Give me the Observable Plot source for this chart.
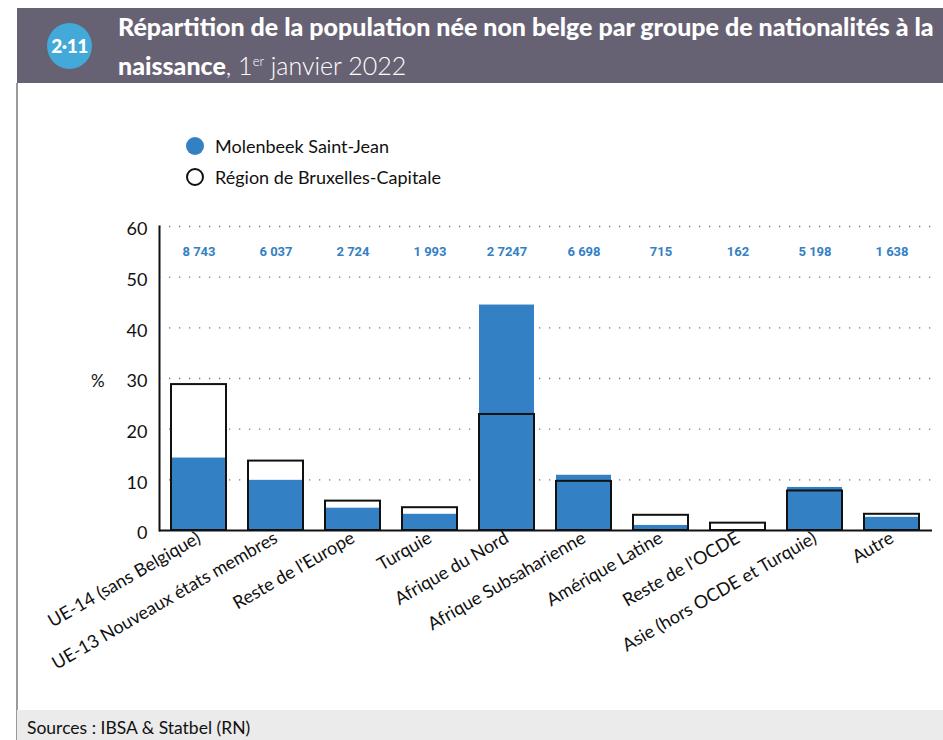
<!DOCTYPE html>
<html><head><meta charset="utf-8">
<script src="https://cdn.jsdelivr.net/npm/d3@7"></script>
<script src="https://cdn.jsdelivr.net/npm/@observablehq/plot@0.6"></script>
<style>
body{margin:0;width:943px;height:740px;position:relative;background:#fff;font-family:Lato,"Open Sans",sans-serif;overflow:hidden}
#band{position:absolute;left:17px;top:8px;width:926px;height:75px;background:#676273}
#vline{position:absolute;left:16px;top:83px;width:1.5px;height:657px;background:#9a9a9a}
#badge{position:absolute;left:47px;top:23px;width:45px;height:46px;border-radius:50%;background:#42a9d8;color:#fff;font-weight:900;font-size:19px;line-height:46px;text-align:center;letter-spacing:-0.5px}
#title{position:absolute;left:118px;top:9px;color:#fff;font-size:25px;line-height:35px;white-space:nowrap}
#title b{font-weight:900}
#title .reg{font-weight:300}
#footer{position:absolute;left:17px;top:710px;width:926px;height:30px;background:#ebebeb}
#src{position:absolute;left:27px;top:717px;font-size:17.5px;color:#111}
#legend{position:absolute;left:186px;top:130px;font-size:18px;color:#111}
.li{display:flex;align-items:center;height:31px}
.dot{width:18px;height:18px;border-radius:50%;margin-right:11px;box-sizing:border-box}
#pct{position:absolute;left:91px;top:370px;font-size:17px;color:#111}
#chart{position:absolute;left:0;top:100px}
</style></head>
<body>
<div id="band"></div>
<div id="vline"></div>
<div id="badge">2·11</div>
<div id="title"><b>Répartition de la population née non belge par groupe de nationalités à la</b><br><b>naissance</b><span class="reg">, 1<sup style="font-size:13px">er</sup> janvier 2022</span></div>
<div id="legend">
<div class="li"><div class="dot" style="background:#3480c4"></div>Molenbeek Saint-Jean</div>
<div class="li"><div class="dot" style="border:2px solid #111"></div>Région de Bruxelles-Capitale</div>
</div>
<div id="pct">%</div>
<div id="chart"></div>
<div id="footer"></div>
<div id="src">Sources : IBSA &amp; Statbel (RN)</div>
<script>
const categories = ["UE-14 (sans Belgique)","UE-13 Nouveaux états membres","Reste de l'Europe","Turquie","Afrique du Nord","Afrique Subsaharienne","Amérique Latine","Reste de l'OCDE","Asie (hors OCDE et Turquie)","Autre"];
const molenbeek = [14.3, 9.9, 4.4, 3.2, 44.5, 10.9, 1.0, 0.1, 8.5, 2.6];
const bruxelles = [28.8, 13.7, 5.8, 4.5, 22.9, 9.7, 3.0, 1.45, 7.8, 3.2];
const counts = ["8 743","6 037","2 724","1 993","2 7247","6 698","715","162","5 198","1 638"];
const yTicks = [0,10,20,30,40,50,60];
const countLevel = 55;

const data = categories.map((c,i)=>({cat:c, mol:molenbeek[i], bru:bruxelles[i], n:counts[i]}));
const blue = "#3480c4";

const chart = Plot.plot({
  width: 943, height: 610,
  marginTop: 126, marginBottom: 180, marginLeft: 159, marginRight: 11,
  style: {fontFamily: "Lato, sans-serif", color: "#111", background: "transparent"},
  x: {domain: categories, paddingInner: 0.28, paddingOuter: 0.14, label: null},
  y: {domain: [0, 60], label: null},
  marks: [
    Plot.gridY(yTicks.slice(1), {stroke: "#777", strokeOpacity: 1, strokeDasharray: "1.3,8.7", strokeWidth: 1.3}),
    Plot.barY(data, {x: "cat", y: "bru", fill: "white"}),
    Plot.barY(data, {x: "cat", y: "mol", fill: blue}),
    Plot.barY(data, {x: "cat", y: "bru", fill: "none", stroke: "#111", strokeWidth: 2}),
    Plot.ruleY([0], {stroke: "#111", strokeWidth: 2}),
    Plot.frame({anchor: "left", stroke: "#111", strokeWidth: 2}),
    Plot.axisY({ticks: yTicks, tickSize: 0, tickPadding: 12, fontSize: 18, dy: 3, label: null}),
    Plot.axisX({tickSize: 0, tickPadding: 6, tickRotate: -30, fontSize: 18, label: null}),
    Plot.text(data, {x: "cat", y: () => countLevel, text: "n", fill: blue, fontWeight: "bold", fontSize: 13, fontFamily: "'Liberation Sans Narrow', 'Roboto', sans-serif"})
  ]
});
document.getElementById("chart").appendChild(chart);
</script>
</body></html>
